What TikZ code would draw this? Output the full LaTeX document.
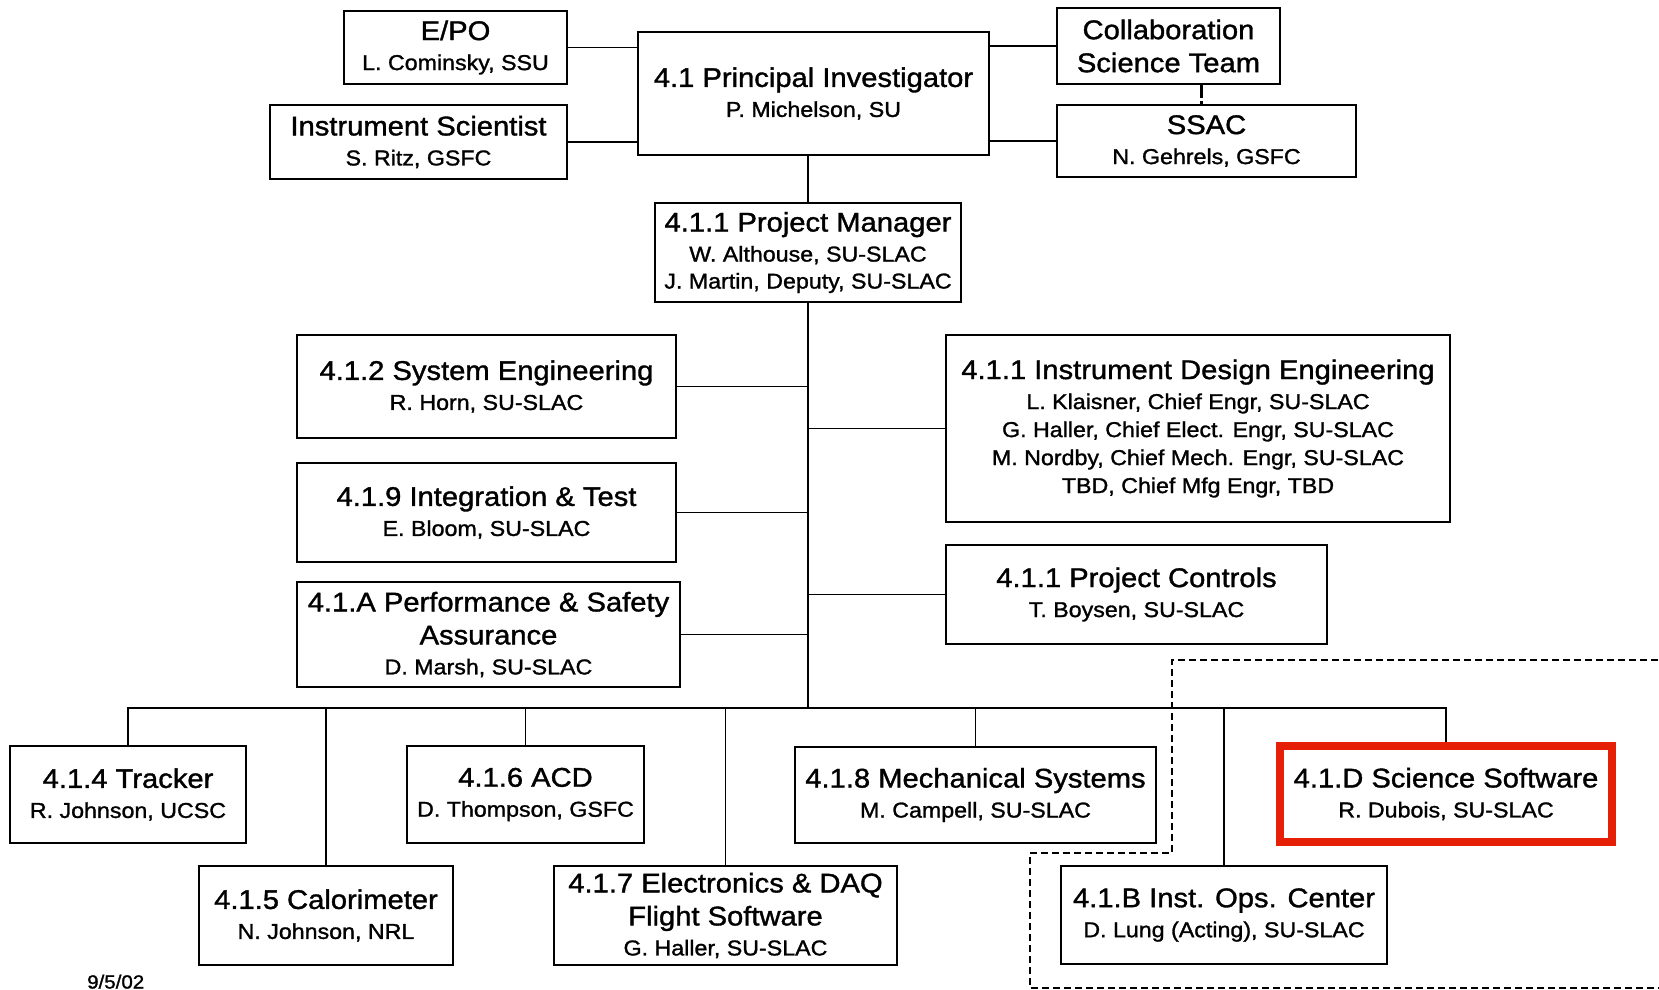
\documentclass[tikz,border=0pt]{standalone}
\usepackage{fontspec}
\setmainfont{Liberation Sans}[FakeStretch=1.08,FakeBold=1.3]
\newcommand\ttl[1]{{\fontsize{27}{30}\selectfont #1}}
\newcommand\subf{\fontsize{21.5}{30}\selectfont}
\definecolor{hired}{RGB}{230,32,6}
\begin{document}
\begin{tikzpicture}[x=1pt,y=-1pt,
  box/.style={draw, line width=1.8pt, inner sep=0pt, align=center, font=\subf},
  conn/.style={line width=1.6pt},
  dconn/.style={line width=1.8pt, dash pattern=on 7pt off 4pt}]
\useasboundingbox (0,0) rectangle (1659,990);
% top
\node[box, minimum width=223, minimum height=73] (epo) at (455.5,47.5) {\ttl{E/PO}\\L. Cominsky, SSU};
\node[box, minimum width=297, minimum height=74] (is) at (418.5,142) {\ttl{Instrument Scientist}\\S. Ritz, GSFC};
\node[box, minimum width=351, minimum height=123] (pi) at (813.5,93.5) {\ttl{4.1 Principal Investigator}\\P. Michelson, SU};
\node[box, minimum width=223, minimum height=76] (cst) at (1168.5,46) {\ttl{Collaboration}\\[3pt]\ttl{Science Team}};
\node[box, minimum width=299, minimum height=72] (ssac) at (1206.5,141) {\ttl{SSAC}\\N. Gehrels, GSFC};
\node[box, minimum width=306, minimum height=99] (pm) at (808,252.5) {\ttl{4.1.1 Project Manager}\\W. Althouse, SU-SLAC\\[-3pt]J. Martin, Deputy, SU-SLAC};
% middle
\node[box, minimum width=379, minimum height=103] (se) at (486.5,386.5) {\ttl{4.1.2 System Engineering}\\R. Horn, SU-SLAC};
\node[box, minimum width=379, minimum height=99] (it) at (486.5,512.5) {\ttl{4.1.9 Integration \& Test}\\E. Bloom, SU-SLAC};
\node[box, minimum width=383, minimum height=105] (psa) at (488.5,634.5) {\ttl{4.1.A Performance \& Safety}\\[3pt]\ttl{Assurance}\\D. Marsh, SU-SLAC};
\node[box, minimum width=504, minimum height=187] (ide) at (1198,428.5) {\ttl{4.1.1 Instrument Design Engineering}\\L. Klaisner, Chief Engr, SU-SLAC\\[-2pt]G. Haller, Chief Elect. Engr, SU-SLAC\\[-2pt]M. Nordby, Chief Mech. Engr, SU-SLAC\\[-2pt]TBD, Chief Mfg Engr, TBD};
\node[box, minimum width=381, minimum height=99] (pc) at (1136.5,594.5) {\ttl{4.1.1 Project Controls}\\T. Boysen, SU-SLAC};
% bottom
\node[box, minimum width=236, minimum height=97] (trk) at (128,794.5) {\ttl{4.1.4 Tracker}\\R. Johnson, UCSC};
\node[box, minimum width=254, minimum height=99] (cal) at (326,915.5) {\ttl{4.1.5 Calorimeter}\\N. Johnson, NRL};
\node[box, minimum width=237, minimum height=97] (acd) at (525.5,794.5) {\ttl{4.1.6 ACD}\\D. Thompson, GSFC};
\node[box, minimum width=343, minimum height=99] (elec) at (725.5,915.5) {\ttl{4.1.7 Electronics \& DAQ}\\[3pt]\ttl{Flight Software}\\G. Haller, SU-SLAC};
\node[box, minimum width=361, minimum height=96] (mech) at (975.5,795) {\ttl{4.1.8 Mechanical Systems}\\M. Campell, SU-SLAC};
\node[box, minimum width=326, minimum height=98] (ioc) at (1224,915) {\ttl{4.1.B Inst. Ops. Center}\\D. Lung (Acting), SU-SLAC};
\node[box, draw=hired, line width=7.5pt, minimum width=332, minimum height=96] (ssw) at (1446,794) {\ttl{4.1.D Science Software}\\R. Dubois, SU-SLAC};
\node[anchor=base west, inner sep=0pt, font=\fontsize{19}{20}\selectfont] (date) at (87,988.5) {9/5/02};
% connectors top
\draw[conn] (epo.east) -- (epo.east -| pi.west);
\draw[conn] (is.east) -- (is.east -| pi.west);
\draw[conn] (cst.west) -- (cst.west -| pi.east);
\draw[conn] (ssac.west) -- (ssac.west -| pi.east);
\draw[line width=3pt, dash pattern=on 13pt off 3pt on 10pt] ([xshift=-5pt]cst.south -| ssac.north) -- ([xshift=-5pt]ssac.north);
\draw[conn] (pm.north) -- (pm.north |- pi.south);
% trunk
\coordinate (bus) at (808,708);
\draw[conn] (pm.south) -- (bus);
\draw[conn] (se.east) -- (se.east -| bus);
\draw[conn] (it.east) -- (it.east -| bus);
\draw[conn] (psa.east) -- (psa.east -| bus);
\draw[conn] (ide.west) -- (ide.west -| bus);
\draw[conn] (pc.west) -- (pc.west -| bus);
% bus
\draw[conn] (trk.north) -- (trk.north |- bus) -- (ssw.north |- bus) -- (ssw.north);
\draw[conn] (cal.north) -- (cal.north |- bus);
\draw[conn] (acd.north) -- (acd.north |- bus);
\draw[conn] (elec.north) -- (elec.north |- bus);
\draw[conn] (mech.north) -- (mech.north |- bus);
\draw[conn] (ioc.north) -- (ioc.north |- bus);
% dashed region
\coordinate (d1) at (1680,660);
\coordinate (d2) at (1172,660);
\coordinate (d3) at (1172,853);
\coordinate (d4) at (1030,853);
\coordinate (d5) at (1030,988);
\coordinate (d6) at (1680,988);
\draw[dconn] (d1) -- (d2) -- (d3) -- (d4) -- (d5) -- (d6);
\end{tikzpicture}
\end{document}
